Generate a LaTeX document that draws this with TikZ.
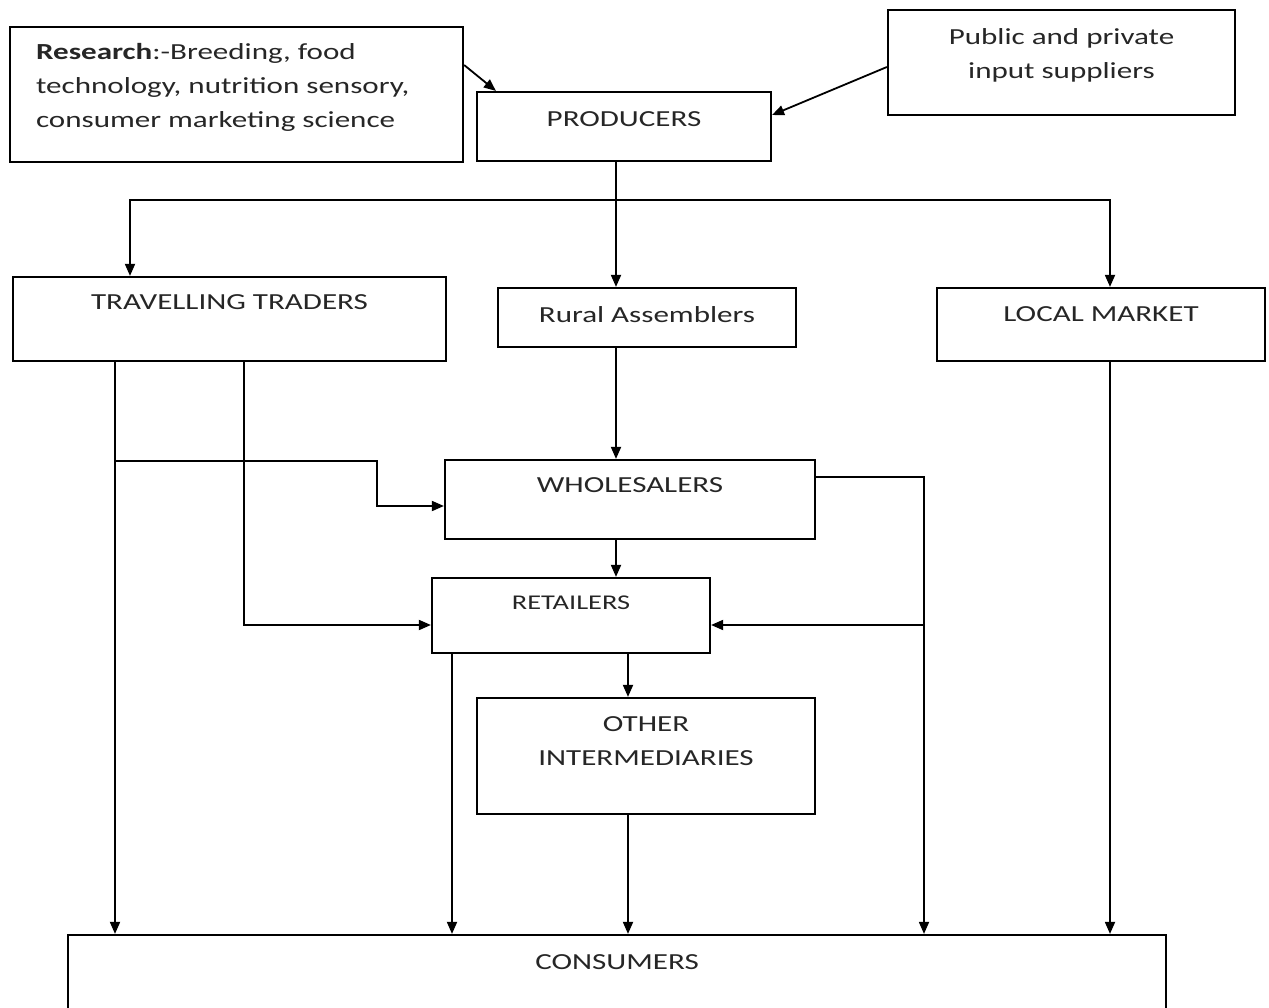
\documentclass[tikz,border=0pt]{standalone}
\usepackage{fontspec}
\setmainfont{Carlito}[FakeStretch=1.35]
\usetikzlibrary{arrows.meta}

\begin{document}
\begin{tikzpicture}[
    x=1pt, y=-1pt,
    box/.style={draw, line width=2.2pt, inner sep=0pt},
    lbl/.style={anchor=north, inner sep=0pt, align=center,
                font=\fontsize{23}{34}\selectfont, text=black!85},
    arr/.style={line width=1.8pt, -{Triangle[length=12pt, width=10pt]}},
    line/.style={line width=1.8pt},
  ]
    \useasboundingbox (0,0) rectangle (1269,1008);

    % top row
    \node[box, minimum width=453pt, minimum height=135pt,
          label={[lbl, anchor=north west, align=left, xshift=27pt, yshift=-17pt]north west:{\textbf{Research}:-Breeding, food\\technology, nutrition sensory,\\consumer marketing science}}]
      (res) at (236.5,94.5) {};
    \node[box, minimum width=347pt, minimum height=105pt,
          label={[lbl, yshift=-19pt]north:{Public and private\\input suppliers}}]
      (pub) at (1061.5,62.5) {};
    \node[box, minimum width=294pt, minimum height=69pt,
          label={[lbl, yshift=-20pt]north:PRODUCERS}]
      (prod) at (624,126.5) {};

    % second row
    \node[box, minimum width=433pt, minimum height=84pt,
          label={[lbl, yshift=-18pt]north:TRAVELLING TRADERS}]
      (tt) at (229.5,319) {};
    \node[box, minimum width=298pt, minimum height=59pt,
          label={[lbl, yshift=-19pt]north:Rural Assemblers}]
      (rural) at (647,317.5) {};
    \node[box, minimum width=328pt, minimum height=73pt,
          label={[lbl, yshift=-19pt]north:LOCAL MARKET}]
      (lm) at (1101,324.5) {};

    % middle
    \node[box, minimum width=370pt, minimum height=79pt,
          label={[lbl, yshift=-18pt]north:WHOLESALERS}]
      (whole) at (630,499.5) {};
    \node[box, minimum width=278pt, minimum height=75pt,
          label={[lbl, yshift=-19pt, font=\fontsize{21}{30}\selectfont]north:RETAILERS}]
      (ret) at (571,615.5) {};
    \node[box, minimum width=338pt, minimum height=116pt,
          label={[lbl, yshift=-19pt]north:{OTHER\\INTERMEDIARIES}}]
      (other) at (646,756) {};
    \node[box, minimum width=1098pt, minimum height=140pt,
          label={[lbl, yshift=-20pt]north:CONSUMERS}]
      (cons) at (617,1005) {};

    \coordinate (split) at (616,200);
    \coordinate (bl) at (130,200);
    \coordinate (br) at (1110,200);
    \coordinate (ta) at (115,461);
    \coordinate (tb) at (377,506);
    \coordinate (tc) at (244,625);
    \coordinate (wr) at (924,477);
    \coordinate (rc) at (628,680);
    \coordinate (rl) at (452,800);

    \draw[arr] ([yshift=29.5pt]res.east) -- ([xshift=20pt]prod.north west);
    \draw[arr] ([yshift=-4.5pt]pub.west) -- ([yshift=11.5pt]prod.east);

    \draw[line] (prod.south -| split) -- (split);
    \draw[arr] (split) -- (bl) -- (bl |- tt.north);
    \draw[arr] (split) -- (split |- rural.north);
    \draw[arr] (split) -- (br) -- (br |- lm.north);

    \draw[arr] (rural.south -| split) -- (whole.north -| split);
    \draw[arr] (tt.south -| ta) -- (cons.north -| ta);
    \draw[arr] (ta) -| (tb) -- (tb -| whole.west);
    \draw[arr] (tt.south -| tc) -- (tc) -- (tc -| ret.west);
    \draw[arr] (whole.south -| split) -- (ret.north -| split);
    \draw[arr] (wr -| whole.east) -- (wr) -- (wr |- cons.north);
    \draw[arr] (wr |- tc) -- (tc -| ret.east);
    \draw[arr] (ret.south -| rc) -- (other.north -| rc);
    \draw[arr] (ret.south -| rl) -- (cons.north -| rl);
    \draw[arr] (other.south -| rc) -- (cons.north -| rc);
    \draw[arr] (lm.south -| br) -- (cons.north -| br);
  \end{tikzpicture}
\end{document}
